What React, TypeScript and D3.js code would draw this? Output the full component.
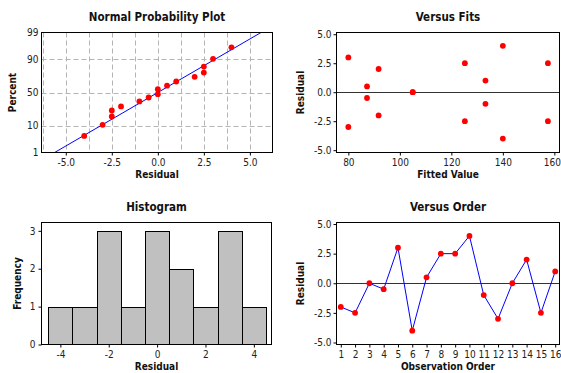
import React, { useEffect, useRef } from "react";
import * as d3 from "d3";

// residuals in observation order
const residuals = [-2, -2.5, 0, -0.5, 3, -4, 0.5, 2.5, 2.5, 4, -1, -3, 0, 2, -2.5, 1];
const fits = [91.75, 125.25, 105, 87.25, 80, 140, 87.25, 125.25, 157.5, 140, 133.25, 80, 105, 91.75, 157.5, 133.25];
const observations = d3.range(1, 17);

// normal probability plot points (residual, percent)
const probResiduals = [-4, -3, -2.5, -2.5, -2, -1, -0.5, 0, 0, 0.5, 1, 2, 2.5, 2.5, 3, 4];
const probPercents = [4.6, 10.5, 17.6, 24.3, 29.4, 36.4, 42.3, 47.4, 55.1, 60.5, 66.5, 72.8, 78.0, 84.3, 90.4, 96.0];
const probTicks = [1, 10, 50, 90, 99];
const fitMean = 0;
const fitSd = 2.41;

// histogram bins
const binStarts = [-4.5, -3.5, -2.5, -1.5, -0.5, 0.5, 1.5, 2.5, 3.5];
const binCounts = [1, 1, 3, 1, 3, 2, 1, 3, 1];

const resTicks = [-5, -2.5, 0, 2.5, 5];
const fitTicks = [80, 100, 120, 140, 160];
const histTicks = [-4, -2, 0, 2, 4];
const freqTicks = [0, 1, 2, 3];

const FONT = "'DejaVu Sans Condensed', 'DejaVu Sans', sans-serif";

// inverse normal CDF (Acklam)
function qnorm(p: number) {
  const a = [-39.69683028665376, 220.9460984245205, -275.928510446969, 138.357751867269, -30.66479806614716, 2.506628277459239];
  const b = [-54.47609879822406, 161.5858368580409, -155.6989798598866, 66.80131188771972, -13.28068155288572];
  const c = [-0.007784894002430293, -0.3223964580411365, -2.400758277161838, -2.549732539343734, 4.374664141464968, 2.938163982698783];
  const d = [0.007784695709041462, 0.3224671290700398, 2.445134137142996, 3.754408661907416];
  const pl = 0.02425;
  let q, r;
  if (p < pl) {
    q = Math.sqrt(-2 * Math.log(p));
    return (((((c[0] * q + c[1]) * q + c[2]) * q + c[3]) * q + c[4]) * q + c[5]) / ((((d[0] * q + d[1]) * q + d[2]) * q + d[3]) * q + 1);
  }
  if (p > 1 - pl) {
    q = Math.sqrt(-2 * Math.log(1 - p));
    return -(((((c[0] * q + c[1]) * q + c[2]) * q + c[3]) * q + c[4]) * q + c[5]) / ((((d[0] * q + d[1]) * q + d[2]) * q + d[3]) * q + 1);
  }
  q = p - 0.5;
  r = q * q;
  return ((((((a[0] * r + a[1]) * r + a[2]) * r + a[3]) * r + a[4]) * r + a[5]) * q) / (((((b[0] * r + b[1]) * r + b[2]) * r + b[3]) * r + b[4]) * r + 1);
}

const App = () => {
  const svgRef = useRef<SVGSVGElement>(null);

  useEffect(() => {
    const svg = d3.select(svgRef.current);
    svg.selectAll("*").remove();

    const fmt1 = (d: any) => d3.format(".1f")(d).replace("−", "-");

    // frame, title, axis labels for one panel
    const panel = (box: any, title: string, xLabel: string, yLabel: string, yLabelX: number) => {
      const g = svg.append("g");
      g.append("text")
        .attr("x", (box.left + box.right) / 2)
        .attr("y", box.top - 12)
        .attr("text-anchor", "middle")
        .style("font-family", FONT)
        .style("font-stretch", "condensed")
        .style("font-size", "11.5px")
        .style("font-weight", "bold")
        .style("fill", "#111")
        .text(title);
      g.append("text")
        .attr("x", (box.left + box.right) / 2)
        .attr("y", box.bottom + 25)
        .attr("text-anchor", "middle")
        .style("font-family", FONT)
        .style("font-stretch", "condensed")
        .style("font-size", "10px")
        .style("font-weight", "bold")
        .style("fill", "#111")
        .text(xLabel);
      g.append("text")
        .attr("transform", `translate(${yLabelX}, ${(box.top + box.bottom) / 2}) rotate(-90)`)
        .attr("text-anchor", "middle")
        .style("font-family", FONT)
        .style("font-stretch", "condensed")
        .style("font-size", "10px")
        .style("font-weight", "bold")
        .style("fill", "#111")
        .text(yLabel);
      return g;
    };

    const styleAxis = (sel: any) => {
      sel.select(".domain").remove();
      sel.selectAll("line").attr("stroke", "#000");
      sel.selectAll("text")
        .style("font-family", FONT)
        .style("font-stretch", "condensed")
        .style("font-size", "10px")
        .style("fill", "#222");
    };

    const frame = (g: any, box: any) => {
      g.append("rect")
        .attr("x", box.left)
        .attr("y", box.top)
        .attr("width", box.right - box.left)
        .attr("height", box.bottom - box.top)
        .attr("fill", "none")
        .attr("stroke", "#000")
        .attr("stroke-width", 1);
    };

    const dots = (g: any, pts: any[], x: any, y: any) => {
      g.selectAll(".dot")
        .data(pts)
        .join("circle")
        .attr("cx", (d: any) => x(d[0]))
        .attr("cy", (d: any) => y(d[1]))
        .attr("r", 2.9)
        .attr("fill", "#ff0000");
    };

    // ---- Normal Probability Plot ----
    {
      const box = { left: 41.5, right: 272.5, top: 32.5, bottom: 152.5 };
      const g = panel(box, "Normal Probability Plot", "Residual", "Percent", 16);
      const x = d3.scaleLinear().domain([-6.32, 6.23]).range([box.left, box.right]);
      const zy = d3.scaleLinear().domain([qnorm(0.01), qnorm(0.99)]).range([box.bottom, box.top]);
      const y = (p: number) => zy(qnorm(p / 100));

      // grid
      const gridX = d3.range(-6.25, 6.26, 1.25).filter((v) => x(v) > box.left + 1 && x(v) < box.right - 1);
      g.selectAll(".gx")
        .data(gridX)
        .join("line")
        .attr("x1", (d: number) => Math.round(x(d)) + 0.5)
        .attr("x2", (d: number) => Math.round(x(d)) + 0.5)
        .attr("y1", box.top)
        .attr("y2", box.bottom)
        .attr("stroke", "#b4b4b4")
        .attr("stroke-dasharray", "5,3");
      g.selectAll(".gy")
        .data([10, 50, 90])
        .join("line")
        .attr("x1", box.left)
        .attr("x2", box.right)
        .attr("y1", (d: number) => Math.round(y(d)) + 0.5)
        .attr("y2", (d: number) => Math.round(y(d)) + 0.5)
        .attr("stroke", "#b4b4b4")
        .attr("stroke-dasharray", "5,3");

      // fitted line
      const lo = fitMean + fitSd * qnorm(0.01);
      const hi = fitMean + fitSd * qnorm(0.99);
      g.append("line")
        .attr("x1", x(lo))
        .attr("y1", y(1))
        .attr("x2", x(hi))
        .attr("y2", y(99))
        .attr("stroke", "#0000ff")
        .attr("stroke-width", 1);

      dots(g, probResiduals.map((r, i) => [r, probPercents[i]]), x, y);
      frame(g, box);

      g.append("g")
        .attr("transform", `translate(0, ${box.bottom})`)
        .call(d3.axisBottom(x).tickValues(resTicks).tickSize(3).tickPadding(3).tickFormat(fmt1))
        .call(styleAxis);
      g.selectAll(".pt")
        .data(probTicks)
        .join("text")
        .attr("x", box.left - 3)
        .attr("y", (d: number) => y(d))
        .attr("dy", "0.35em")
        .attr("text-anchor", "end")
        .style("font-family", FONT)
        .style("font-stretch", "condensed")
        .style("font-size", "10px")
        .style("fill", "#222")
        .text((d: number) => d);
    }

    // ---- Versus Fits ----
    {
      const box = { left: 336.5, right: 559.5, top: 32.5, bottom: 152.5 };
      const g = panel(box, "Versus Fits", "Fitted Value", "Residual", 304);
      const x = d3.scaleLinear().domain([75.4, 162]).range([box.left, box.right]);
      const y = d3.scaleLinear().domain([-5.2, 5.15]).range([box.bottom, box.top]);
      g.append("line")
        .attr("x1", box.left)
        .attr("x2", box.right)
        .attr("y1", Math.round(y(0)) + 0.5)
        .attr("y2", Math.round(y(0)) + 0.5)
        .attr("stroke", "#333");
      dots(g, fits.map((f, i) => [f, residuals[i]]), x, y);
      frame(g, box);
      const xAxis = g.append("g")
        .attr("transform", `translate(0, ${box.bottom})`)
        .call(d3.axisBottom(x).tickValues(fitTicks).tickSize(3).tickPadding(3))
        .call(styleAxis);
      // keep the last label inside the page edge
      xAxis.selectAll(".tick text")
        .filter((d: any) => d === 160)
        .attr("text-anchor", "end")
        .attr("x", 560.5 - x(160));
      g.append("g")
        .attr("transform", `translate(${box.left}, 0)`)
        .call(d3.axisLeft(y).tickValues(resTicks).tickSize(3).tickPadding(2).tickFormat(fmt1))
        .call(styleAxis);
    }

    // ---- Histogram ----
    {
      const box = { left: 41.5, right: 271.5, top: 222.5, bottom: 344.5 };
      const g = panel(box, "Histogram", "Residual", "Frequency", 21);
      const x = d3.scaleLinear().domain([-4.78, 4.73]).range([box.left, box.right]);
      const y = d3.scaleLinear().domain([0, 3.22]).range([box.bottom, box.top]);
      g.selectAll(".bar")
        .data(binStarts)
        .join("rect")
        .attr("x", (d: number) => Math.round(x(d)) + 0.5)
        .attr("width", (d: number) => Math.round(x(d + 1)) - Math.round(x(d)))
        .attr("y", (d: number, i: number) => Math.round(y(binCounts[i])) + 0.5)
        .attr("height", (d: number, i: number) => box.bottom - (Math.round(y(binCounts[i])) + 0.5))
        .attr("fill", "#c0c0c0")
        .attr("stroke", "#000")
        .attr("stroke-width", 1);
      frame(g, box);
      g.append("g")
        .attr("transform", `translate(0, ${box.bottom})`)
        .call(d3.axisBottom(x).tickValues(histTicks).tickSize(3).tickPadding(3).tickFormat(d3.format("d")))
        .call(styleAxis);
      g.append("g")
        .attr("transform", `translate(${box.left}, 0)`)
        .call(d3.axisLeft(y).tickValues(freqTicks).tickSize(3).tickPadding(3).tickFormat(d3.format("d")))
        .call(styleAxis);
      g.selectAll(".tick text").text(function () {
        return (this as any).textContent.replace("−", "-");
      });
    }

    // ---- Versus Order ----
    {
      const box = { left: 336.5, right: 559.5, top: 222.5, bottom: 344.5 };
      const g = panel(box, "Versus Order", "Observation Order", "Residual", 304);
      const x = d3.scaleLinear().domain([0.7, 16.3]).range([box.left, box.right]);
      const y = d3.scaleLinear().domain([-5.17, 5.13]).range([box.bottom, box.top]);
      g.append("line")
        .attr("x1", box.left)
        .attr("x2", box.right)
        .attr("y1", Math.round(y(0)) + 0.5)
        .attr("y2", Math.round(y(0)) + 0.5)
        .attr("stroke", "#333");
      const line = d3
        .line<number>()
        .x((d, i) => x(observations[i]))
        .y((d) => y(d));
      g.append("path")
        .attr("d", line(residuals))
        .attr("fill", "none")
        .attr("stroke", "#0000ff")
        .attr("stroke-width", 1);
      dots(g, observations.map((o, i) => [o, residuals[i]]), x, y);
      frame(g, box);
      g.append("g")
        .attr("transform", `translate(0, ${box.bottom})`)
        .call(d3.axisBottom(x).tickValues(observations).tickSize(3).tickPadding(3).tickFormat(d3.format("d")))
        .call(styleAxis);
      g.append("g")
        .attr("transform", `translate(${box.left}, 0)`)
        .call(d3.axisLeft(y).tickValues(resTicks).tickSize(3).tickPadding(2).tickFormat(fmt1))
        .call(styleAxis);
    }
  }, []);

  return (
    <div style={{ position: "absolute", left: 0, top: 0, background: "#fff" }}>
      <svg ref={svgRef} width={561} height={373} style={{ display: "block" }}></svg>
    </div>
  );
};

export default App;
